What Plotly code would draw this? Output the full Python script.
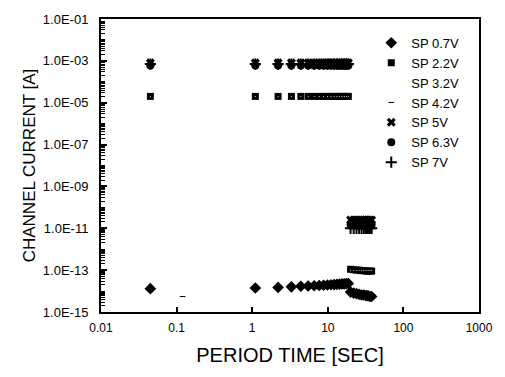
import plotly.graph_objects as go

# Period times [s]
t_low = [0.045, 1.1, 2.2, 3.3, 4.4, 5.5, 6.6, 7.7, 8.8, 9.9, 11, 12.1, 13.2, 14.3, 15.4, 16.5, 17.6, 18.7]
t_high = [20, 22, 24, 26, 28, 30, 32, 34, 36, 38]
time_all = t_low + t_high

# Channel current [A] per stress voltage
sp07 = [1.3e-14, 1.4e-14, 1.5e-14, 1.6e-14, 1.7e-14, 1.75e-14, 1.8e-14, 1.85e-14, 1.9e-14,
        1.95e-14, 2.0e-14, 2.05e-14, 2.1e-14, 2.15e-14, 2.2e-14, 2.2e-14, 2.25e-14, 2.3e-14,
        9e-15, 8e-15, 7.5e-15, 7e-15, 6.5e-15, 6.5e-15, 6e-15, 6e-15, 5.5e-15, 5.5e-15]
sp22 = [2e-5] * 18 + [1.1e-13, 1.05e-13, 1.0e-13, 1.0e-13, 9.5e-14, 9.5e-14, 9e-14, 9e-14, 9e-14, 9e-14]
sp32 = [2e-5] * 18 + [1e-13] * 10
sp42_t = [0.12]
sp42 = [5.5e-15]
sp5 = [8e-4] * 18 + [2.5e-11] * 10
sp63 = [6e-4] * 18 + [1.5e-11] * 10
sp7 = [7e-4] * 18 + [1e-11] * 10

names = ["SP 0.7V", "SP 2.2V", "SP 3.2V", "SP 4.2V", "SP 5V", "SP 6.3V", "SP 7V"]
y_ticks = [1e-1, 1e-3, 1e-5, 1e-7, 1e-9, 1e-11, 1e-13, 1e-15]
y_tick_text = ["1.0E-01", "1.0E-03", "1.0E-05", "1.0E-07", "1.0E-09", "1.0E-11", "1.0E-13", "1.0E-15"]
x_ticks = [0.01, 0.1, 1, 10, 100, 1000]
x_tick_text = ["0.01", "0.1", "1", "10", "100", "1000"]

# minor tick positions on the log y axis (every 1..9 x decade)
y_minor = [m * 10.0 ** e for e in range(-15, -1) for m in range(1, 10)]

FONT = "Liberation Sans, Arial, Helvetica, sans-serif"

fig = go.Figure()
fig.add_trace(go.Scatter(x=time_all, y=sp07, mode="markers", name=names[0],
                         marker=dict(symbol="diamond", size=9, color="black")))
fig.add_trace(go.Scatter(x=time_all, y=sp22, mode="markers", name=names[1],
                         marker=dict(symbol="square", size=7, color="black")))
fig.add_trace(go.Scatter(x=time_all, y=sp32, mode="markers", name=names[2],
                         marker=dict(symbol="circle", size=1, color="white")))
fig.add_trace(go.Scatter(x=sp42_t, y=sp42, mode="markers", name=names[3],
                         marker=dict(symbol="line-ew", size=4, color="black",
                                     line=dict(width=1, color="black"))))
fig.add_trace(go.Scatter(x=time_all, y=sp5, mode="markers", name=names[4],
                         marker=dict(symbol="x", size=8, color="black")))
fig.add_trace(go.Scatter(x=time_all, y=sp63, mode="markers", name=names[5],
                         marker=dict(symbol="circle", size=8, color="black")))
fig.add_trace(go.Scatter(x=time_all, y=sp7, mode="markers", name=names[6],
                         marker=dict(symbol="cross-thin", size=8, color="black",
                                     line=dict(width=2, color="black"))))
# invisible trace so the overlay tick axis gets drawn
fig.add_trace(go.Scatter(x=sp42_t, y=sp42, mode="markers", yaxis="y2", showlegend=False,
                         hoverinfo="skip", marker=dict(size=1, opacity=0)))

fig.update_layout(
    width=505, height=377,
    margin=dict(l=101, r=18, t=13, b=65),
    paper_bgcolor="white", plot_bgcolor="white",
    font=dict(family=FONT, color="black", size=12),
    showlegend=True,
    legend=dict(x=0.715, y=0.97, xanchor="left", yanchor="top",
                bgcolor="rgba(0,0,0,0)", font=dict(size=13, family=FONT)),
    xaxis=dict(type="log", range=[-2, 3], tickvals=x_ticks, ticktext=x_tick_text,
               ticks="inside", ticklen=5, tickwidth=1.5, tickcolor="black",
               showline=True, linecolor="black", linewidth=2, mirror=True,
               showgrid=False, zeroline=False,
               tickfont=dict(size=12), ticklabelstandoff=4,
               title=dict(text="PERIOD TIME [SEC]", font=dict(size=20), standoff=14)),
    yaxis=dict(type="log", range=[-15, -1], tickvals=y_ticks, ticktext=y_tick_text,
               ticks="inside", ticklen=6, tickwidth=1.5, tickcolor="black",
               showline=True, linecolor="black", linewidth=2, mirror=True,
               showgrid=False, zeroline=False,
               tickfont=dict(size=13), ticklabelstandoff=8,
               title=dict(text="CHANNEL CURRENT [A]", font=dict(size=17), standoff=3)),
    # overlay axis used only to draw the fine log tick marks along the left edge
    yaxis2=dict(type="log", range=[-15, -1], overlaying="y", anchor="x", side="left",
                tickmode="array", tickvals=y_minor, ticktext=[""] * len(y_minor),
                ticks="inside", ticklen=4, tickwidth=1, tickcolor="black",
                showline=False, showgrid=False, zeroline=False, showticklabels=False),
)

fig.write_html("out.html", config={"displayModeBar": False},
               post_script="document.body.style.margin='0';")
